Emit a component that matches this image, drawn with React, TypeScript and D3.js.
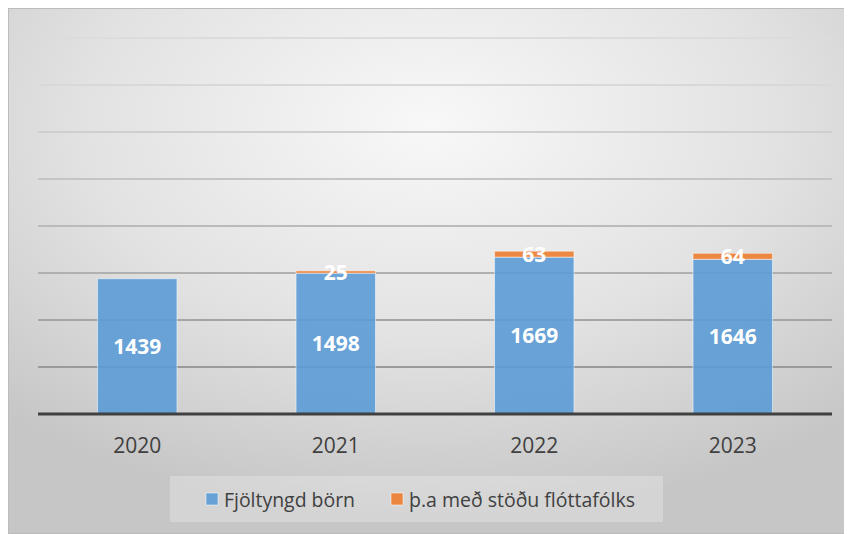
import React, { useRef, useEffect } from "react";
import * as d3 from "d3";

const years = ["2020", "2021", "2022", "2023"];
const multilingual = [1439, 1498, 1669, 1646];
const refugees = [0, 25, 63, 64];
const yTicks = [0, 500, 1000, 1500, 2000, 2500, 3000, 3500, 4000];
const seriesNames = ["Fjöltyngd börn", "þ.a með stöðu flóttafólks"];
const seriesColors = ["#5B9BD5", "#ED7D31"];

const FONT = "'Open Sans', 'DejaVu Sans', sans-serif";

const App: React.FC = () => {
  const svgRef = useRef<SVGSVGElement | null>(null);

  useEffect(() => {
    if (!svgRef.current) return;
    const svg = d3.select(svgRef.current);
    svg.selectAll("*").remove();

    const width = 844;
    const height = 526;
    const margin = { top: 30, right: 20, bottom: 120, left: 30 };
    const innerWidth = width - margin.left - margin.right;
    const innerHeight = height - margin.top - margin.bottom;

    const defs = svg.append("defs");

    const bg = defs
      .append("radialGradient")
      .attr("id", "bgGrad")
      .attr("cx", "50%")
      .attr("cy", "22%")
      .attr("r", "75%");
    bg.append("stop").attr("offset", "0%").attr("stop-color", "#f8f8f8");
    bg.append("stop").attr("offset", "55%").attr("stop-color", "#e2e2e2");
    bg.append("stop").attr("offset", "100%").attr("stop-color", "#c6c6c6");

    const gridGrad = defs
      .append("linearGradient")
      .attr("id", "gridGrad")
      .attr("gradientUnits", "userSpaceOnUse")
      .attr("x1", 0)
      .attr("x2", 0)
      .attr("y1", margin.top)
      .attr("y2", margin.top + innerHeight);
    gridGrad.append("stop").attr("offset", "0%").attr("stop-color", "#dcdcdc");
    gridGrad.append("stop").attr("offset", "50%").attr("stop-color", "#b4b4b4");
    gridGrad.append("stop").attr("offset", "100%").attr("stop-color", "#888888");

    svg
      .append("rect")
      .attr("x", 0.5)
      .attr("y", 0.5)
      .attr("width", width - 1)
      .attr("height", height - 1)
      .attr("fill", "url(#bgGrad)")
      .attr("stroke", "#bcbcbc")
      .attr("stroke-width", 1);

    const g = svg
      .append("g")
      .attr("transform", `translate(${margin.left},${margin.top})`);

    const x = d3
      .scaleBand()
      .domain(years)
      .range([0, innerWidth])
      .paddingInner(0.6)
      .paddingOuter(0.3);

    const y = d3.scaleLinear().domain([0, 4000]).range([innerHeight, 0]);

    // gridlines
    g.append("g")
      .selectAll("line")
      .data(yTicks.filter((t) => t > 0))
      .join("line")
      .attr("x1", 0)
      .attr("x2", innerWidth)
      .attr("y1", (d) => y(d))
      .attr("y2", (d) => y(d))
      .attr("stroke", "url(#gridGrad)")
      .attr("stroke-width", 2);

    const rows = years.map((year, i) => ({
      year,
      base: multilingual[i],
      extra: refugees[i],
    }));

    // blue segments
    g.append("g")
      .selectAll("rect")
      .data(rows)
      .join("rect")
      .attr("x", (d) => x(d.year) || 0)
      .attr("y", (d) => y(d.base))
      .attr("width", x.bandwidth())
      .attr("height", (d) => y(0) - y(d.base))
      .attr("fill", seriesColors[0])
      .attr("fill-opacity", 0.9)
      .attr("stroke", "#ffffff")
      .attr("stroke-opacity", 0.5)
      .attr("stroke-width", 1);

    // orange segments
    g.append("g")
      .selectAll("rect")
      .data(rows.filter((d) => d.extra > 0))
      .join("rect")
      .attr("x", (d) => x(d.year) || 0)
      .attr("y", (d) => y(d.base + d.extra))
      .attr("width", x.bandwidth())
      .attr("height", (d) => y(d.base) - y(d.base + d.extra))
      .attr("fill", seriesColors[1])
      .attr("fill-opacity", 0.9)
      .attr("stroke", "#ffffff")
      .attr("stroke-opacity", 0.5)
      .attr("stroke-width", 1);

    // axis baseline
    g.append("line")
      .attr("x1", 0)
      .attr("x2", innerWidth)
      .attr("y1", y(0))
      .attr("y2", y(0))
      .attr("stroke", "#404040")
      .attr("stroke-width", 3);

    // data labels
    g.append("g")
      .selectAll("text")
      .data(rows)
      .join("text")
      .attr("x", (d) => (x(d.year) || 0) + x.bandwidth() / 2)
      .attr("y", (d) => (y(0) + y(d.base)) / 2)
      .attr("dy", "0.36em")
      .attr("text-anchor", "middle")
      .attr("fill", "#ffffff")
      .attr("font-family", FONT)
      .attr("font-weight", "bold")
      .attr("font-size", 21)
      .text((d) => d.base);

    g.append("g")
      .selectAll("text")
      .data(rows.filter((d) => d.extra > 0))
      .join("text")
      .attr("x", (d) => (x(d.year) || 0) + x.bandwidth() / 2)
      .attr("y", (d) => (y(d.base) + y(d.base + d.extra)) / 2)
      .attr("dy", "0.36em")
      .attr("text-anchor", "middle")
      .attr("fill", "#ffffff")
      .attr("font-family", FONT)
      .attr("font-weight", "bold")
      .attr("font-size", 21)
      .text((d) => d.extra);

    // x labels
    g.append("g")
      .selectAll("text")
      .data(years)
      .join("text")
      .attr("x", (d) => (x(d) || 0) + x.bandwidth() / 2)
      .attr("y", y(0) + 39)
      .attr("text-anchor", "middle")
      .attr("fill", "#404040")
      .attr("font-family", FONT)
      .attr("font-size", 21)
      .text((d) => d);

    // legend
    const legend = svg.append("g");
    legend
      .append("rect")
      .attr("x", 162)
      .attr("y", 468)
      .attr("width", 493)
      .attr("height", 46)
      .attr("fill", "#ffffff")
      .attr("fill-opacity", 0.25);

    const legendX = [198, 383];
    const legendLen = [131, 226];
    seriesNames.forEach((name, i) => {
      legend
        .append("rect")
        .attr("x", legendX[i])
        .attr("y", 485)
        .attr("width", 12)
        .attr("height", 12)
        .attr("fill", seriesColors[i])
        .attr("fill-opacity", 0.9)
        .attr("stroke", "#ffffff")
        .attr("stroke-opacity", 0.5);
      legend
        .append("text")
        .attr("x", legendX[i] + 18)
        .attr("y", 499)
        .attr("fill", "#404040")
        .attr("font-family", FONT)
        .attr("font-size", 20)
        .attr("textLength", legendLen[i])
        .attr("lengthAdjust", "spacingAndGlyphs")
        .text(name);
    });
  }, []);

  return <svg ref={svgRef} width={844} height={526} style={{ display: "block" }} />;
};

export default App;
